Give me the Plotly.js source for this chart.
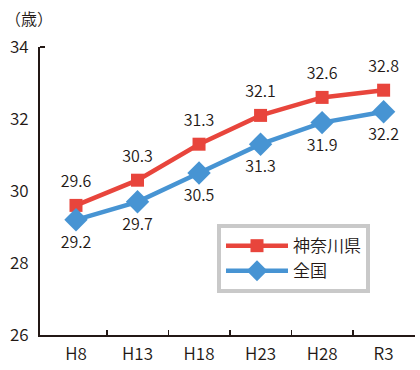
<!DOCTYPE html>
<html>
<head>
<meta charset="utf-8">
<script src="https://cdn.plot.ly/plotly-3.0.1.min.js"></script>
<style>html,body{margin:0;padding:0;background:#fff;}#chart{width:420px;height:370px;}</style>
</head>
<body>
<div id="chart"></div>
<script>
const categories = ["H8", "H13", "H18", "H23", "H28", "R3"];
const kanagawa = [29.6, 30.3, 31.3, 32.1, 32.6, 32.8];
const zenkoku = [29.2, 29.7, 30.5, 31.3, 31.9, 32.2];
const seriesNames = ["神奈川県", "全国"];
const yTicks = [26, 28, 30, 32, 34];
const unitLabel = "（歳）";

const idx = categories.map((c, i) => i);
const FONT = '"Noto Sans CJK JP", "Noto Sans", sans-serif';
const W = 350;
const INK = '#231815';
const RED = '#e8453c';
const BLUE = '#4794d3';

function labelTrace(values, pos, spacer) {
  return {
    x: idx, y: values, type: 'scatter', mode: 'markers+text',
    marker: {size: spacer, color: 'rgba(0,0,0,0)'},
    text: values.map(v => v.toFixed(1)), textposition: pos,
    textfont: {family: FONT, size: 16, color: INK, weight: W},
    showlegend: false, hoverinfo: 'skip', cliponaxis: false
  };
}

const traces = [
  {
    x: idx, y: kanagawa, name: seriesNames[0], type: 'scatter', mode: 'lines+markers',
    line: {color: RED, width: 4.5},
    marker: {symbol: 'square', size: 13, color: RED},
    cliponaxis: false
  },
  {
    x: idx, y: zenkoku, name: seriesNames[1], type: 'scatter', mode: 'lines+markers',
    line: {color: BLUE, width: 4.5},
    marker: {symbol: 'diamond', size: 18, color: BLUE},
    cliponaxis: false
  },
  labelTrace(kanagawa, 'top center', 21),
  labelTrace(zenkoku, 'bottom center', 24)
];

const layout = {
  width: 420, height: 370,
  margin: {l: 40, r: 5, t: 47, b: 35},
  paper_bgcolor: '#fff', plot_bgcolor: '#fff',
  font: {family: FONT, size: 17, color: INK, weight: W},
  showlegend: true,
  legend: {
    x: 0.472, y: 0.385, xanchor: 'left', yanchor: 'top',
    bgcolor: '#fff', bordercolor: '#c9c9c9', borderwidth: 4,
    font: {family: FONT, size: 17, color: INK, weight: W},
    itemwidth: 62, tracegroupgap: 0
  },
  xaxis: {
    type: 'linear', range: [-0.585, 5.51],
    tickmode: 'array', tickvals: idx, ticktext: categories,
    ticks: '', showgrid: false, zeroline: false,
    showline: true, linecolor: INK, linewidth: 2,
    tickfont: {family: FONT, size: 17, color: INK, weight: W},
    ticklabelstandoff: 3,
    minor: {tickmode: 'array', tickvals: idx.slice(1).map(i => i - 0.5), ticks: 'inside', ticklen: 5, tickwidth: 1.5, tickcolor: INK, showgrid: false},
    fixedrange: true
  },
  yaxis: {
    range: [26, 34],
    tickmode: 'array', tickvals: yTicks,
    ticks: '', showgrid: false, zeroline: false,
    showline: true, linecolor: INK, linewidth: 2,
    tickfont: {family: FONT, size: 17, color: INK, weight: W},
    ticklabelstandoff: 6,
    minor: {tickmode: 'array', tickvals: [yTicks[yTicks.length - 1]], ticks: 'inside', ticklen: 5, tickwidth: 1.5, tickcolor: INK, showgrid: false},
    fixedrange: true
  },
  annotations: [{
    text: unitLabel, xref: 'paper', yref: 'paper', x: -0.1, y: 1.102,
    xanchor: 'left', yanchor: 'middle', showarrow: false,
    font: {family: FONT, size: 16, color: INK, weight: W}
  }]
};

Plotly.newPlot('chart', traces, layout, {staticPlot: true, displayModeBar: false});
</script>
</body>
</html>
